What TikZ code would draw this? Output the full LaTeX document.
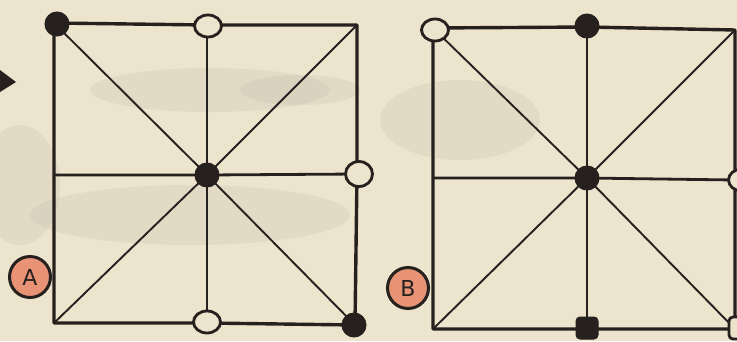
\documentclass[tikz,border=0pt]{standalone}
\usepackage{fontspec}
\setmainfont{DejaVu Sans}
\usetikzlibrary{shapes.geometric}
\begin{document}
\begin{tikzpicture}[x=1pt,y=-1pt,
  frame/.style={draw=inkc,line width=3.4pt,line join=round},
  gridl/.style={draw=inkc,line width=2.8pt},
  diag/.style={draw=inkc,line width=1.9pt},
  blackpc/.style={circle,fill=inkc,draw=inkc,line width=1pt,minimum size=24pt,inner sep=0pt},
  whitepc/.style={ellipse,fill=paper,draw=inkc,line width=2.8pt,minimum width=27pt,minimum height=22pt,inner sep=0pt},
  tag/.style={circle,fill=salmon,draw=inkc,line width=3pt,minimum size=41pt,inner sep=0pt,font=\fontsize{22}{22}\selectfont,text=inkc},
  smear/.style={fill=smudge,opacity=0.15}
]
\definecolor{paper}{RGB}{236,228,204}
\definecolor{inkc}{RGB}{38,33,30}
\definecolor{salmon}{RGB}{232,146,118}
\definecolor{smudge}{RGB}{170,166,156}
\useasboundingbox (0,0) rectangle (737,341);
\clip (0,0) rectangle (737,341);
\fill[paper] (0,0) rectangle (737,341);
% faint smudges
\fill[smear] (20,185) ellipse (40pt and 60pt);
\fill[smear] (210,90) ellipse (120pt and 22pt);
\fill[smear] (190,215) ellipse (160pt and 30pt);
\fill[smear] (460,120) ellipse (80pt and 40pt);
\fill[smear] (300,90) ellipse (60pt and 15pt);
% left edge wedge
\fill[inkc] (0,70) -- (16,82) -- (0,92) -- cycle;

% ---- Board A ----
\coordinate (a11) at (54,23);
\coordinate (a12) at (207,25);
\coordinate (a13) at (357,25);
\coordinate (a21) at (54,175);
\coordinate (a22) at (207,175);
\coordinate (a23) at (357,174);
\coordinate (a31) at (54,323);
\coordinate (a32) at (207,323);
\coordinate (a33) at (355,325);
\draw[gridl] (a12) -- (a22) -- (a32);
\draw[gridl] (a21) -- (a22) -- (a23);
\draw[diag] (a11) -- (a22) -- (a33);
\draw[diag] (a13) -- (a22) -- (a31);
\draw[frame] (a11) -- (a12) -- (a13) -- (a23) -- (a33) -- (a32) -- (a31) -- (a21) -- cycle;
\node[blackpc] (pa1) at (57,24) {};
\node[whitepc] (pa2) at (208,26) {};
\node[blackpc] (pa3) at (207,175) {};
\node[whitepc,minimum width=27pt,minimum height=25pt] (pa4) at (359,174) {};
\node[blackpc] (pa5) at (354,325) {};
\node[whitepc] (pa6) at (207,322) {};
\node[tag] (ta) at (30,277) {A};

% ---- Board B ----
\coordinate (b11) at (433,28);
\coordinate (b12) at (587,27);
\coordinate (b13) at (735,30);
\coordinate (b21) at (433,178);
\coordinate (b22) at (587,178);
\coordinate (b23) at (735,180);
\coordinate (b31) at (433,329);
\coordinate (b32) at (587,329);
\coordinate (b33) at (735,329);
\draw[gridl] (b12) -- (b22) -- (b32);
\draw[gridl] (b21) -- (b22) -- (b23);
\draw[diag] (b11) -- (b22) -- (b33);
\draw[diag] (b13) -- (b22) -- (b31);
\draw[frame] (b11) -- (b12) -- (b13) -- (b23) -- (b33) -- (b32) -- (b31) -- (b21) -- cycle;
\node[whitepc] (pb1) at (435,30) {};
\node[blackpc] (pb2) at (587,26) {};
\node[blackpc] (pb3) at (587,178) {};
\node[whitepc] (pb4) at (742,180) {};
\node[blackpc,rectangle,rounded corners=4pt,minimum size=22pt] (pb5) at (587,328) {};
\node[whitepc,rectangle,rounded corners=4pt,minimum size=22pt] (pb6) at (740,328) {};
\node[tag] (tb) at (408,288) {B};
\end{tikzpicture}
\end{document}
